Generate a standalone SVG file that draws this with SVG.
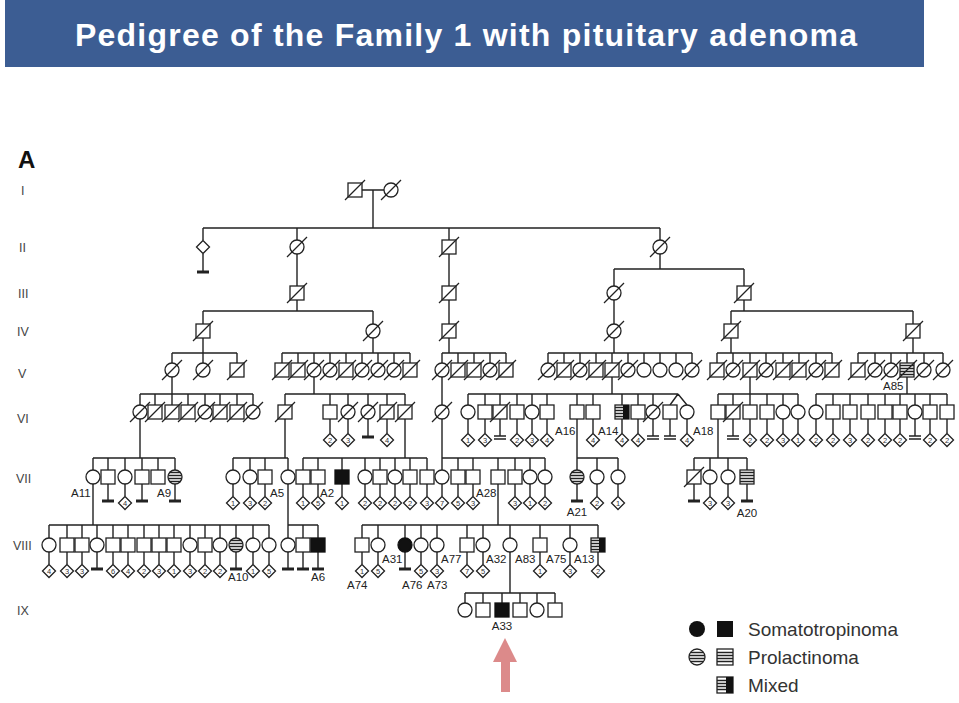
<svg xmlns="http://www.w3.org/2000/svg" width="959" height="703" viewBox="0 0 959 703">
<style>
.ln{fill:none;stroke:#222;stroke-width:1.4}
.bar{fill:none;stroke:#222;stroke-width:2.8}
.bar2{fill:none;stroke:#222;stroke-width:1.3}
.s{fill:#fff;stroke:#222;stroke-width:1.3}
.k{fill:#111;stroke:#111;stroke-width:1.3}
.sl{fill:none;stroke:#222;stroke-width:1.3}
.lab{font-family:"Liberation Sans",Arial,sans-serif;font-size:11.5px;fill:#222}
.num{font-family:"Liberation Sans",Arial,sans-serif;font-size:7.5px;fill:#333;text-anchor:middle}
.gen{font-family:"Liberation Sans",Arial,sans-serif;font-size:12.5px;fill:#444}
.leg{font-family:"Liberation Sans",Arial,sans-serif;font-size:19px;fill:#333}
</style>
<defs>
<rect id="sq" class="s" x="-7" y="-7" width="14" height="14"/>
<circle id="ci" class="s" r="7"/>
<g id="sqd"><use href="#sq"/><line class="sl" x1="-10" y1="10" x2="10" y2="-10"/></g>
<g id="cid"><use href="#ci"/><line class="sl" x1="-10" y1="10" x2="10" y2="-10"/></g>
<rect id="sqA" class="k" x="-7" y="-7" width="14" height="14"/>
<circle id="ciA" class="k" r="7"/>
<g id="sqP"><use href="#sq"/><path class="sl" d="M-7,-4.5h14M-7,-1.5h14M-7,1.5h14M-7,4.5h14"/></g>
<g id="ciP"><use href="#ci"/><path class="sl" d="M-5.4,-4.5h10.8M-6.8,-1.5h13.6M-6.8,1.5h13.6M-5.4,4.5h10.8"/></g>
<g id="sqM"><use href="#sq"/><path class="sl" d="M-7,-4.5h8M-7,-1.5h8M-7,1.5h8M-7,4.5h8"/><rect fill="#111" x="1" y="-7" width="6" height="14"/></g>
<polygon id="dm" class="s" points="0,-6.5 6.5,0 0,6.5 -6.5,0"/>
</defs>

<rect x="5" y="0" width="919" height="67" fill="#3c5d93"/>
<text x="75" y="46" textLength="782" lengthAdjust="spacing" font-family="'Liberation Sans',Arial,sans-serif" font-weight="bold" font-size="32" fill="#fff">Pedigree of the Family 1 with pituitary adenoma</text>

<text x="18" y="168" font-family="'Liberation Sans',Arial,sans-serif" font-weight="bold" font-size="24" fill="#111">A</text>
<g id="generations">
<text class="gen" x="21" y="195">I</text>
<text class="gen" x="19" y="252">II</text>
<text class="gen" x="18" y="298">III</text>
<text class="gen" x="17" y="336">IV</text>
<text class="gen" x="18" y="378">V</text>
<text class="gen" x="17" y="423">VI</text>
<text class="gen" x="16" y="483">VII</text>
<text class="gen" x="13" y="550">VIII</text>
<text class="gen" x="17" y="615">IX</text>
</g>

<g id="connectors">
<path class="ln" d="M362,190H384M373,190V228M203,228H660M203,228V240M297,228V240M449,228V240M660,228V240
M203,254V272M297,254V286M297,300V311M203,311H373M203,311V324M373,311V324
M449,254V286M449,300V324M660,254V269M614,269H744M614,269V286M744,269V286
M614,300V324M744,300V311M731,311H913M731,311V324M913,311V324
M203,338V363M172,353H237M172,353v10M237,353v10
M373,338V353M282,353H410M282,353v10M298,353v10M314,353v10M330,353v10M346,353v10M362,353v10M378,353v10M394,353v10M410,353v10
M449,338V353M442,353H506M442,353v10M458,353v10M474,353v10M490,353v10M506,353v10
M614,338V353M548,353H692M548,353v10M564,353v10M580,353v10M596,353v10M612,353v10M628,353v10M644,353v10M660,353v10M676,353v10M692,353v10
M731,338V353M717,353H832M717,353v10M733,353v10M750,353v10M766,353v10M783,353v10M799,353v10M816,353v10M832,353v10
M913,338V353M858,353H943M858,353v10M875,353v10M891,353v10M907,353v10M924,353v10M943,353v10
M172,377V394M140,394H253M140,394v11M155,394v11M172,394v11M188,394v11M205,394v11M220,394v11M237,394v11M253,394v11
M314,377V394M285,394H405M285,394v11M330,394v11M348,394v11M368,394v11M387,394v11M405,394v11
M442,377V405
M612,377V394M468,394H678M468,394v11M485,394v11M500,394v11M517,394v11M532,394v11M547,394v11M577,394v11M593,394v11M622,394v11M638,394v11M653,394v11M678,394L670,405M678,394L687,405
M750,377V394M718,394H798M718,394v11M733,394v11M750,394v11M767,394v11M783,394v11M798,394v11
M907,377V394M816,394H947M816,394v11M833,394v11M850,394v11M868,394v11M885,394v11M900,394v11M915,394v11M930,394v11M947,394v11
M140,419V458M93,458H175M93,458v12M108,458v12M125,458v12M142,458v12M158,458v12M175,458v12
M285,419V458M233,458H288M233,458v12M250,458v12M265,458v12M288,458v12
M405,419V458M303,458H427M303,458v12M318,458v12M342,458v12M365,458v12M380,458v12M395,458v12M410,458v12M427,458v12
M442,419V470M442,458H545M458,458v12M473,458v12M498,458v12M515,458v12M530,458v12M545,458v12
M577,419V470M577,458H618M597,458v12M618,458v12
M718,419V458M694,458H747M694,458v12M710,458v12M728,458v12M747,458v12
M330,419V433M348,419V433M387,419V433M468,419V433M485,419V433M517,419V433M532,419V433M547,419V433M593,419V433M622,419V433M638,419V433M687,419V433M750,419V433M767,419V433M783,419V433M798,419V433M816,419V433M833,419V433M850,419V433M868,419V433M885,419V433M900,419V433M930,419V433M947,419V433
M368,419V437M500,419V436M653,419V436M670,419V436M733,419V436M915,419V436
M93,484V525M49,525H269M49,525v13M67,525v13M82,525v13M97,525v13M113,525v13M128,525v13M144,525v13M159,525v13M174,525v13M190,525v13M205,525v13M220,525v13M236,525v13M253,525v13M269,525v13
M288,484V538M288,525H318M303,525v13M318,525v13
M498,484V525M362,525H598M362,525v13M378,525v13M405,525v13M421,525v13M437,525v13M467,525v13M483,525v13M510,525v13M540,525v13M570,525v13M598,525v13
M125,484V496M233,484V496M250,484V496M265,484V496M303,484V496M318,484V496M342,484V496M365,484V496M380,484V496M395,484V496M410,484V496M427,484V496M442,484V496M458,484V496M473,484V496M515,484V496M530,484V496M545,484V496M597,484V496M618,484V496M710,484V496M728,484V496
M108,484V501M142,484V501M175,484V501M577,484V501M694,484V501M747,484V501
M49,552V564M67,552V564M82,552V564M113,552V564M128,552V564M144,552V564M159,552V564M174,552V564M190,552V564M205,552V564M220,552V564M253,552V564M269,552V564M362,552V564M378,552V564M421,552V564M437,552V564M467,552V564M483,552V564M540,552V564M570,552V564M598,552V564
M97,552V569M236,552V569M288,552V569M303,552V569M318,552V569M405,552V569
M510,552V593M465,593H555M465,593v10M483,593v10M502,593v10M520,593v10M537,593v10M555,593v10"/>
<path class="bar" d="M197,272H209M362,437H374M102,501H114M136,501H148M169,501H181M571,501H583M688,501H700M741,501H753M91,569H103M230,569H242M282,569H294M297,569H309M312,569H324M399,569H411"/>
<path class="bar2" d="M494,436H506M494,439H506M647,436H659M647,439H659M664,436H676M664,439H676M727,436H739M727,439H739M909,436H921M909,439H921"/>
</g>

<g id="gen-I">
<g id="I-1"><use href="#sqd" x="355" y="190"/></g>
<g id="I-2"><use href="#cid" x="391" y="190"/></g>
</g>
<g id="gen-II">
<g id="II-1"><use href="#dm" x="203" y="247"/></g>
<g id="II-2"><use href="#cid" x="297" y="247"/></g>
<g id="II-3"><use href="#sqd" x="449" y="247"/></g>
<g id="II-4"><use href="#cid" x="660" y="247"/></g>
</g>
<g id="gen-III">
<g id="III-1"><use href="#sqd" x="297" y="293"/></g>
<g id="III-2"><use href="#sqd" x="449" y="293"/></g>
<g id="III-3"><use href="#cid" x="614" y="293"/></g>
<g id="III-4"><use href="#sqd" x="744" y="293"/></g>
</g>
<g id="gen-IV">
<g id="IV-1"><use href="#sqd" x="203" y="331"/></g>
<g id="IV-2"><use href="#cid" x="373" y="331"/></g>
<g id="IV-3"><use href="#sqd" x="449" y="331"/></g>
<g id="IV-4"><use href="#cid" x="614" y="331"/></g>
<g id="IV-5"><use href="#sqd" x="731" y="331"/></g>
<g id="IV-6"><use href="#sqd" x="913" y="331"/></g>
</g>
<g id="gen-V">
<g id="V-1"><use href="#cid" x="172" y="370"/></g>
<g id="V-2"><use href="#cid" x="203" y="370"/></g>
<g id="V-3"><use href="#sqd" x="237" y="370"/></g>
<g id="V-4"><use href="#sqd" x="282" y="370"/></g>
<g id="V-5"><use href="#sqd" x="298" y="370"/></g>
<g id="V-6"><use href="#cid" x="314" y="370"/></g>
<g id="V-7"><use href="#cid" x="330" y="370"/></g>
<g id="V-8"><use href="#sqd" x="346" y="370"/></g>
<g id="V-9"><use href="#cid" x="362" y="370"/></g>
<g id="V-10"><use href="#cid" x="378" y="370"/></g>
<g id="V-11"><use href="#cid" x="394" y="370"/></g>
<g id="V-12"><use href="#sqd" x="410" y="370"/></g>
<g id="V-13"><use href="#cid" x="442" y="370"/></g>
<g id="V-14"><use href="#sqd" x="458" y="370"/></g>
<g id="V-15"><use href="#sqd" x="474" y="370"/></g>
<g id="V-16"><use href="#cid" x="490" y="370"/></g>
<g id="V-17"><use href="#sqd" x="506" y="370"/></g>
<g id="V-18"><use href="#cid" x="548" y="370"/></g>
<g id="V-19"><use href="#sqd" x="564" y="370"/></g>
<g id="V-20"><use href="#cid" x="580" y="370"/></g>
<g id="V-21"><use href="#sqd" x="596" y="370"/></g>
<g id="V-22"><use href="#sqd" x="612" y="370"/></g>
<g id="V-23"><use href="#cid" x="628" y="370"/></g>
<g id="V-24"><use href="#ci" x="644" y="370"/></g>
<g id="V-25"><use href="#ci" x="660" y="370"/></g>
<g id="V-26"><use href="#ci" x="676" y="370"/></g>
<g id="V-27"><use href="#cid" x="692" y="370"/></g>
<g id="V-28"><use href="#sqd" x="717" y="370"/></g>
<g id="V-29"><use href="#cid" x="733" y="370"/></g>
<g id="V-30"><use href="#sqd" x="750" y="370"/></g>
<g id="V-31"><use href="#cid" x="766" y="370"/></g>
<g id="V-32"><use href="#sqd" x="783" y="370"/></g>
<g id="V-33"><use href="#sqd" x="799" y="370"/></g>
<g id="V-34"><use href="#cid" x="816" y="370"/></g>
<g id="V-35"><use href="#sqd" x="832" y="370"/></g>
<g id="V-36"><use href="#sqd" x="858" y="370"/></g>
<g id="V-37"><use href="#cid" x="875" y="370"/></g>
<g id="V-38"><use href="#cid" x="891" y="370"/></g>
<g id="V-39-A85"><use href="#sqP" x="907" y="370"/><line class="sl" x1="897" y1="380" x2="917" y2="360"/><text class="lab" x="883" y="390">A85</text></g>
<g id="V-40"><use href="#cid" x="924" y="370"/></g>
<g id="V-41"><use href="#cid" x="943" y="370"/></g>
</g>

<g id="gen-VI">
<g id="VI-1"><use href="#cid" x="140" y="412"/></g>
<g id="VI-2"><use href="#sqd" x="155" y="412"/></g>
<g id="VI-3"><use href="#sqd" x="172" y="412"/></g>
<g id="VI-4"><use href="#sqd" x="188" y="412"/></g>
<g id="VI-5"><use href="#cid" x="205" y="412"/></g>
<g id="VI-6"><use href="#sqd" x="220" y="412"/></g>
<g id="VI-7"><use href="#sqd" x="237" y="412"/></g>
<g id="VI-8"><use href="#cid" x="253" y="412"/></g>
<g id="VI-9"><use href="#sqd" x="285" y="412"/></g>
<g id="VI-10"><use href="#sq" x="330" y="412"/></g>
<g id="VI-11"><use href="#cid" x="348" y="412"/></g>
<g id="VI-12"><use href="#cid" x="368" y="412"/></g>
<g id="VI-13"><use href="#sqd" x="387" y="412"/></g>
<g id="VI-14"><use href="#sqd" x="405" y="412"/></g>
<g id="VI-15"><use href="#cid" x="442" y="412"/></g>
<g id="VI-16"><use href="#ci" x="468" y="412"/></g>
<g id="VI-17"><use href="#sq" x="485" y="412"/></g>
<g id="VI-18"><use href="#sqd" x="500" y="412"/></g>
<g id="VI-19"><use href="#sq" x="517" y="412"/></g>
<g id="VI-20"><use href="#ci" x="532" y="412"/></g>
<g id="VI-21-A16"><use href="#sq" x="547" y="412"/><text class="lab" x="555" y="435">A16</text></g>
<g id="VI-22"><use href="#sq" x="577" y="412"/></g>
<g id="VI-23-A14"><use href="#sq" x="593" y="412"/><text class="lab" x="598" y="435">A14</text></g>
<g id="VI-24"><use href="#sqM" x="622" y="412"/></g>
<g id="VI-25"><use href="#sq" x="638" y="412"/></g>
<g id="VI-26"><use href="#cid" x="653" y="412"/></g>
<g id="VI-27"><use href="#sq" x="670" y="412"/></g>
<g id="VI-28-A18"><use href="#ci" x="687" y="412"/><text class="lab" x="693" y="435">A18</text></g>
<g id="VI-29"><use href="#sq" x="718" y="412"/></g>
<g id="VI-30"><use href="#sqd" x="733" y="412"/></g>
<g id="VI-31"><use href="#sq" x="750" y="412"/></g>
<g id="VI-32"><use href="#sq" x="767" y="412"/></g>
<g id="VI-33"><use href="#ci" x="783" y="412"/></g>
<g id="VI-34"><use href="#ci" x="798" y="412"/></g>
<g id="VI-35"><use href="#ci" x="816" y="412"/></g>
<g id="VI-36"><use href="#sq" x="833" y="412"/></g>
<g id="VI-37"><use href="#sq" x="850" y="412"/></g>
<g id="VI-38"><use href="#sq" x="868" y="412"/></g>
<g id="VI-39"><use href="#sq" x="885" y="412"/></g>
<g id="VI-40"><use href="#sq" x="900" y="412"/></g>
<g id="VI-41"><use href="#ci" x="915" y="412"/></g>
<g id="VI-42"><use href="#sq" x="930" y="412"/></g>
<g id="VI-43"><use href="#sq" x="947" y="412"/></g>
</g>

<g id="offspring-VI">
<g id="o6-330"><use href="#dm" x="330" y="440"/><text class="num" x="330" y="442.6">2</text></g>
<g id="o6-348"><use href="#dm" x="348" y="440"/><text class="num" x="348" y="442.6">3</text></g>
<g id="o6-387"><use href="#dm" x="387" y="440"/><text class="num" x="387" y="442.6">4</text></g>
<g id="o6-468"><use href="#dm" x="468" y="440"/><text class="num" x="468" y="442.6">1</text></g>
<g id="o6-485"><use href="#dm" x="485" y="440"/><text class="num" x="485" y="442.6">3</text></g>
<g id="o6-517"><use href="#dm" x="517" y="440"/><text class="num" x="517" y="442.6">2</text></g>
<g id="o6-532"><use href="#dm" x="532" y="440"/><text class="num" x="532" y="442.6">3</text></g>
<g id="o6-547"><use href="#dm" x="547" y="440"/><text class="num" x="547" y="442.6">4</text></g>
<g id="o6-593"><use href="#dm" x="593" y="440"/><text class="num" x="593" y="442.6">4</text></g>
<g id="o6-622"><use href="#dm" x="622" y="440"/><text class="num" x="622" y="442.6">4</text></g>
<g id="o6-638"><use href="#dm" x="638" y="440"/><text class="num" x="638" y="442.6">4</text></g>
<g id="o6-687"><use href="#dm" x="687" y="440"/><text class="num" x="687" y="442.6">4</text></g>
<g id="o6-750"><use href="#dm" x="750" y="440"/><text class="num" x="750" y="442.6">2</text></g>
<g id="o6-767"><use href="#dm" x="767" y="440"/><text class="num" x="767" y="442.6">2</text></g>
<g id="o6-783"><use href="#dm" x="783" y="440"/><text class="num" x="783" y="442.6">3</text></g>
<g id="o6-798"><use href="#dm" x="798" y="440"/><text class="num" x="798" y="442.6">1</text></g>
<g id="o6-816"><use href="#dm" x="816" y="440"/><text class="num" x="816" y="442.6">2</text></g>
<g id="o6-833"><use href="#dm" x="833" y="440"/><text class="num" x="833" y="442.6">2</text></g>
<g id="o6-850"><use href="#dm" x="850" y="440"/><text class="num" x="850" y="442.6">3</text></g>
<g id="o6-868"><use href="#dm" x="868" y="440"/><text class="num" x="868" y="442.6">2</text></g>
<g id="o6-885"><use href="#dm" x="885" y="440"/><text class="num" x="885" y="442.6">2</text></g>
<g id="o6-900"><use href="#dm" x="900" y="440"/><text class="num" x="900" y="442.6">2</text></g>
<g id="o6-930"><use href="#dm" x="930" y="440"/><text class="num" x="930" y="442.6">2</text></g>
<g id="o6-947"><use href="#dm" x="947" y="440"/><text class="num" x="947" y="442.6">2</text></g>
</g>

<g id="gen-VII">
<g id="VII-1-A11"><use href="#ci" x="93" y="477"/><text class="lab" x="71" y="497">A11</text></g>
<g id="VII-2"><use href="#sq" x="108" y="477"/></g>
<g id="VII-3"><use href="#ci" x="125" y="477"/></g>
<g id="VII-4"><use href="#sq" x="142" y="477"/></g>
<g id="VII-5"><use href="#sq" x="158" y="477"/></g>
<g id="VII-6-A9"><use href="#ciP" x="175" y="477"/><text class="lab" x="157" y="497">A9</text></g>
<g id="VII-7"><use href="#ci" x="233" y="477"/></g>
<g id="VII-8"><use href="#ci" x="250" y="477"/></g>
<g id="VII-9"><use href="#sq" x="265" y="477"/></g>
<g id="VII-10-A5"><use href="#ci" x="288" y="477"/><text class="lab" x="270" y="497">A5</text></g>
<g id="VII-11"><use href="#sq" x="303" y="477"/></g>
<g id="VII-12"><use href="#sq" x="318" y="477"/></g>
<g id="VII-13-A2"><use href="#sqA" x="342" y="477"/><text class="lab" x="320" y="497">A2</text></g>
<g id="VII-14"><use href="#ci" x="365" y="477"/></g>
<g id="VII-15"><use href="#sq" x="380" y="477"/></g>
<g id="VII-16"><use href="#ci" x="395" y="477"/></g>
<g id="VII-17"><use href="#sq" x="410" y="477"/></g>
<g id="VII-18"><use href="#sq" x="427" y="477"/></g>
<g id="VII-19"><use href="#ci" x="442" y="477"/></g>
<g id="VII-20"><use href="#sq" x="458" y="477"/></g>
<g id="VII-21"><use href="#sq" x="473" y="477"/></g>
<g id="VII-22-A28"><use href="#sq" x="498" y="477"/><text class="lab" x="476" y="497">A28</text></g>
<g id="VII-23"><use href="#sq" x="515" y="477"/></g>
<g id="VII-24"><use href="#ci" x="530" y="477"/></g>
<g id="VII-25"><use href="#ci" x="545" y="477"/></g>
<g id="VII-26-A21"><use href="#ciP" x="577" y="477"/><text class="lab" x="577" y="516" text-anchor="middle">A21</text></g>
<g id="VII-27"><use href="#ci" x="597" y="477"/></g>
<g id="VII-28"><use href="#ci" x="618" y="477"/></g>
<g id="VII-29"><use href="#sqd" x="694" y="477"/></g>
<g id="VII-30"><use href="#ci" x="710" y="477"/></g>
<g id="VII-31"><use href="#ci" x="728" y="477"/></g>
<g id="VII-32-A20"><use href="#sqP" x="747" y="477"/><text class="lab" x="747" y="517" text-anchor="middle">A20</text></g>
</g>

<g id="offspring-VII">
<g id="o7-125"><use href="#dm" x="125" y="503"/><text class="num" x="125" y="505.6">4</text></g>
<g id="o7-233"><use href="#dm" x="233" y="503"/><text class="num" x="233" y="505.6">1</text></g>
<g id="o7-250"><use href="#dm" x="250" y="503"/><text class="num" x="250" y="505.6">3</text></g>
<g id="o7-265"><use href="#dm" x="265" y="503"/><text class="num" x="265" y="505.6">2</text></g>
<g id="o7-303"><use href="#dm" x="303" y="503"/><text class="num" x="303" y="505.6">1</text></g>
<g id="o7-318"><use href="#dm" x="318" y="503"/><text class="num" x="318" y="505.6">5</text></g>
<g id="o7-342"><use href="#dm" x="342" y="503"/><text class="num" x="342" y="505.6">1</text></g>
<g id="o7-365"><use href="#dm" x="365" y="503"/><text class="num" x="365" y="505.6">2</text></g>
<g id="o7-380"><use href="#dm" x="380" y="503"/><text class="num" x="380" y="505.6">2</text></g>
<g id="o7-395"><use href="#dm" x="395" y="503"/><text class="num" x="395" y="505.6">2</text></g>
<g id="o7-410"><use href="#dm" x="410" y="503"/><text class="num" x="410" y="505.6">2</text></g>
<g id="o7-427"><use href="#dm" x="427" y="503"/><text class="num" x="427" y="505.6">3</text></g>
<g id="o7-442"><use href="#dm" x="442" y="503"/><text class="num" x="442" y="505.6">7</text></g>
<g id="o7-458"><use href="#dm" x="458" y="503"/><text class="num" x="458" y="505.6">5</text></g>
<g id="o7-473"><use href="#dm" x="473" y="503"/><text class="num" x="473" y="505.6">3</text></g>
<g id="o7-515"><use href="#dm" x="515" y="503"/><text class="num" x="515" y="505.6">3</text></g>
<g id="o7-530"><use href="#dm" x="530" y="503"/><text class="num" x="530" y="505.6">1</text></g>
<g id="o7-545"><use href="#dm" x="545" y="503"/><text class="num" x="545" y="505.6">2</text></g>
<g id="o7-597"><use href="#dm" x="597" y="503"/><text class="num" x="597" y="505.6">2</text></g>
<g id="o7-618"><use href="#dm" x="618" y="503"/><text class="num" x="618" y="505.6">1</text></g>
<g id="o7-710"><use href="#dm" x="710" y="503"/><text class="num" x="710" y="505.6">3</text></g>
<g id="o7-728"><use href="#dm" x="728" y="503"/><text class="num" x="728" y="505.6">3</text></g>
</g>

<g id="gen-VIII">
<g id="VIII-1"><use href="#ci" x="49" y="545"/></g>
<g id="VIII-2"><use href="#sq" x="67" y="545"/></g>
<g id="VIII-3"><use href="#sq" x="82" y="545"/></g>
<g id="VIII-4"><use href="#ci" x="97" y="545"/></g>
<g id="VIII-5"><use href="#sq" x="113" y="545"/></g>
<g id="VIII-6"><use href="#sq" x="128" y="545"/></g>
<g id="VIII-7"><use href="#sq" x="144" y="545"/></g>
<g id="VIII-8"><use href="#sq" x="159" y="545"/></g>
<g id="VIII-9"><use href="#sq" x="174" y="545"/></g>
<g id="VIII-10"><use href="#ci" x="190" y="545"/></g>
<g id="VIII-11"><use href="#sq" x="205" y="545"/></g>
<g id="VIII-12"><use href="#ci" x="220" y="545"/></g>
<g id="VIII-13-A10"><use href="#ciP" x="236" y="545"/><text class="lab" x="228" y="581">A10</text></g>
<g id="VIII-14"><use href="#ci" x="253" y="545"/></g>
<g id="VIII-15"><use href="#ci" x="269" y="545"/></g>
<g id="VIII-16"><use href="#ci" x="288" y="545"/></g>
<g id="VIII-17"><use href="#sq" x="303" y="545"/></g>
<g id="VIII-18-A6"><use href="#sqA" x="318" y="545"/><text class="lab" x="311" y="581">A6</text></g>
<g id="VIII-19-A74"><use href="#sq" x="362" y="545"/><text class="lab" x="347" y="589">A74</text></g>
<g id="VIII-20-A31"><use href="#ci" x="378" y="545"/><text class="lab" x="382" y="563">A31</text></g>
<g id="VIII-21-A76"><use href="#ciA" x="405" y="545"/><text class="lab" x="402" y="589">A76</text></g>
<g id="VIII-22"><use href="#ci" x="421" y="545"/></g>
<g id="VIII-23-A73"><use href="#ci" x="437" y="545"/><text class="lab" x="427" y="589">A73</text></g>
<g id="VIII-24-A77"><use href="#sq" x="467" y="545"/><text class="lab" x="441" y="563">A77</text></g>
<g id="VIII-25-A32"><use href="#ci" x="483" y="545"/><text class="lab" x="486" y="563">A32</text></g>
<g id="VIII-26"><use href="#ci" x="510" y="545"/></g>
<g id="VIII-27-A83"><use href="#sq" x="540" y="545"/><text class="lab" x="515" y="563">A83</text></g>
<g id="VIII-28-A75"><use href="#ci" x="570" y="545"/><text class="lab" x="546" y="563">A75</text></g>
<g id="VIII-29-A13"><use href="#sqM" x="598" y="545"/><text class="lab" x="574" y="563">A13</text></g>
</g>

<g id="offspring-VIII">
<g id="o8-49"><use href="#dm" x="49" y="571"/><text class="num" x="49" y="573.6">4</text></g>
<g id="o8-67"><use href="#dm" x="67" y="571"/><text class="num" x="67" y="573.6">3</text></g>
<g id="o8-82"><use href="#dm" x="82" y="571"/><text class="num" x="82" y="573.6">3</text></g>
<g id="o8-113"><use href="#dm" x="113" y="571"/><text class="num" x="113" y="573.6">6</text></g>
<g id="o8-128"><use href="#dm" x="128" y="571"/><text class="num" x="128" y="573.6">4</text></g>
<g id="o8-144"><use href="#dm" x="144" y="571"/><text class="num" x="144" y="573.6">2</text></g>
<g id="o8-159"><use href="#dm" x="159" y="571"/><text class="num" x="159" y="573.6">3</text></g>
<g id="o8-174"><use href="#dm" x="174" y="571"/><text class="num" x="174" y="573.6">1</text></g>
<g id="o8-190"><use href="#dm" x="190" y="571"/><text class="num" x="190" y="573.6">3</text></g>
<g id="o8-205"><use href="#dm" x="205" y="571"/><text class="num" x="205" y="573.6">2</text></g>
<g id="o8-220"><use href="#dm" x="220" y="571"/><text class="num" x="220" y="573.6">2</text></g>
<g id="o8-253"><use href="#dm" x="253" y="571"/><text class="num" x="253" y="573.6">1</text></g>
<g id="o8-269"><use href="#dm" x="269" y="571"/><text class="num" x="269" y="573.6">5</text></g>
<g id="o8-362"><use href="#dm" x="362" y="571"/><text class="num" x="362" y="573.6">1</text></g>
<g id="o8-378"><use href="#dm" x="378" y="571"/><text class="num" x="378" y="573.6">5</text></g>
<g id="o8-421"><use href="#dm" x="421" y="571"/><text class="num" x="421" y="573.6">5</text></g>
<g id="o8-437"><use href="#dm" x="437" y="571"/><text class="num" x="437" y="573.6">3</text></g>
<g id="o8-467"><use href="#dm" x="467" y="571"/><text class="num" x="467" y="573.6">7</text></g>
<g id="o8-483"><use href="#dm" x="483" y="571"/><text class="num" x="483" y="573.6">5</text></g>
<g id="o8-540"><use href="#dm" x="540" y="571"/><text class="num" x="540" y="573.6">1</text></g>
<g id="o8-570"><use href="#dm" x="570" y="571"/><text class="num" x="570" y="573.6">3</text></g>
<g id="o8-598"><use href="#dm" x="598" y="571"/><text class="num" x="598" y="573.6">2</text></g>
</g>

<g id="gen-IX">
<g id="IX-1"><use href="#ci" x="465" y="610"/></g>
<g id="IX-2"><use href="#sq" x="483" y="610"/></g>
<g id="IX-3-A33"><use href="#sqA" x="502" y="610"/><text class="lab" x="502" y="630" text-anchor="middle">A33</text></g>
<g id="IX-4"><use href="#sq" x="520" y="610"/></g>
<g id="IX-5"><use href="#ci" x="537" y="610"/></g>
<g id="IX-6"><use href="#sq" x="555" y="610"/></g>
</g>

<g id="proband-arrow"><polygon points="505,638 517,662 510,662 510,692 501,692 501,662 493,662" fill="#dc8a8a"/></g>

<g id="legend">
<circle cx="697" cy="629" r="8" fill="#111"/>
<rect x="717" y="621" width="16" height="16" fill="#111"/>
<text class="leg" x="748" y="636">Somatotropinoma</text>
<circle cx="697" cy="657" r="8" fill="#fff" stroke="#222" stroke-width="1.3"/>
<path class="sl" d="M690.7,652.5h12.6M689.2,655.5h15.6M689.2,658.5h15.6M690.7,661.5h12.6"/>
<rect x="717" y="649" width="16" height="16" fill="#fff" stroke="#222" stroke-width="1.3"/>
<path class="sl" d="M717,652.5h16M717,655.5h16M717,658.5h16M717,661.5h16"/>
<text class="leg" x="748" y="664">Prolactinoma</text>
<rect x="717" y="677" width="16" height="16" fill="#fff" stroke="#222" stroke-width="1.3"/>
<path class="sl" d="M717,680.5h9M717,683.5h9M717,686.5h9M717,689.5h9"/>
<rect x="726" y="677" width="7" height="16" fill="#111"/>
<text class="leg" x="748" y="692">Mixed</text>
</g>
</svg>
